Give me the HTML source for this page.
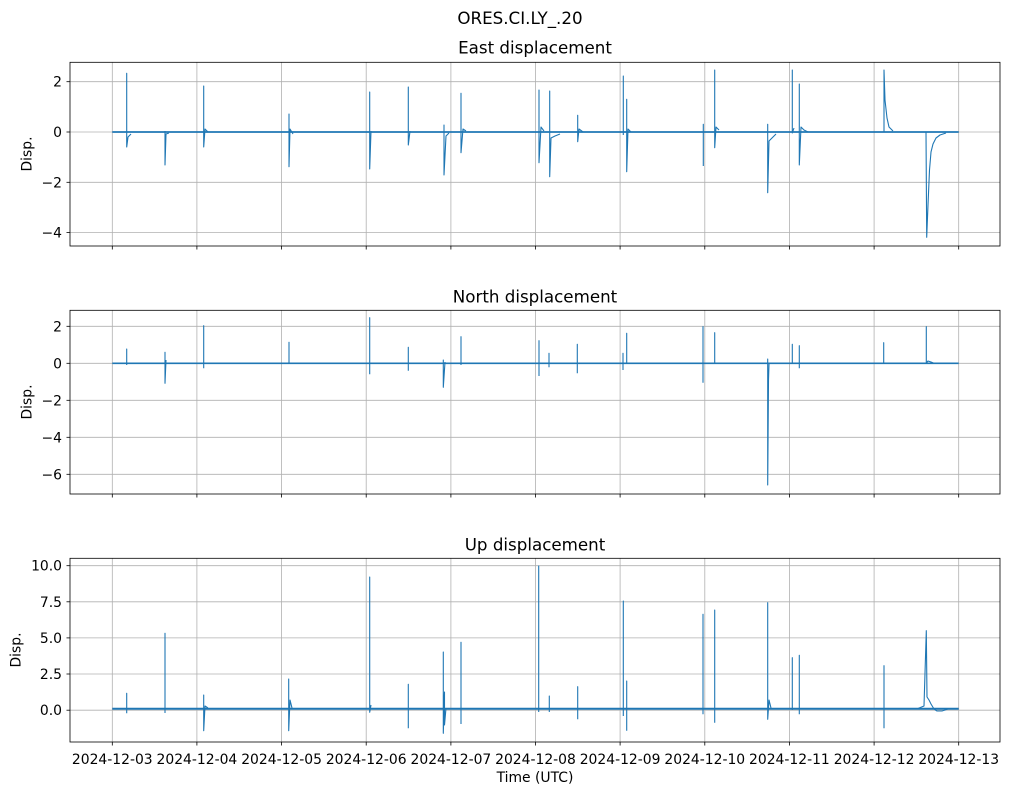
<!DOCTYPE html>
<html>
<head>
<meta charset="utf-8">
<style>
html,body{margin:0;padding:0;background:#fff;}
svg{display:block;}
text{font-family:"DejaVu Sans","Liberation Sans",sans-serif;fill:#000;}
.tk{font-size:13.9px;}
.ti{font-size:16.7px;}
.grid line{stroke:#b0b0b0;stroke-width:0.8;}
.spine{fill:none;stroke:#000;stroke-width:0.8;}
.tick line{stroke:#000;stroke-width:0.8;}
.base{fill:none;stroke:#1f77b4;stroke-width:1.7;}
.sp{fill:none;stroke:#1f77b4;stroke-width:1.1;stroke-linejoin:round;}
</style>
</head>
<body>
<svg width="1010" height="795" viewBox="0 0 1010 795" xmlns="http://www.w3.org/2000/svg">
<rect width="1010" height="795" fill="#fff"/>

<text class="ti" x="520" y="24" text-anchor="middle">ORES.CI.LY_.20</text>

<!-- ============ PANEL 1: East ============ -->
<text class="ti" x="535" y="53.5" text-anchor="middle">East displacement</text>
<g class="grid">
  <line x1="112.3" y1="62.3" x2="112.3" y2="246"/>
  <line x1="196.9" y1="62.3" x2="196.9" y2="246"/>
  <line x1="281.6" y1="62.3" x2="281.6" y2="246"/>
  <line x1="366.2" y1="62.3" x2="366.2" y2="246"/>
  <line x1="450.9" y1="62.3" x2="450.9" y2="246"/>
  <line x1="535.5" y1="62.3" x2="535.5" y2="246"/>
  <line x1="620.1" y1="62.3" x2="620.1" y2="246"/>
  <line x1="704.8" y1="62.3" x2="704.8" y2="246"/>
  <line x1="789.4" y1="62.3" x2="789.4" y2="246"/>
  <line x1="874.1" y1="62.3" x2="874.1" y2="246"/>
  <line x1="958.7" y1="62.3" x2="958.7" y2="246"/>
  <line x1="70" y1="81.7" x2="1000" y2="81.7"/>
  <line x1="70" y1="132" x2="1000" y2="132"/>
  <line x1="70" y1="182.3" x2="1000" y2="182.3"/>
  <line x1="70" y1="232.6" x2="1000" y2="232.6"/>
</g>
<path class="base" d="M112.3 132 H958.7"/>
<path class="sp" d="M126.7 132 V73.3 V147 L128 137 L131 134
M165 131 V165 L166 134 L169 133
M203.7 132 V86 V147 L205 129 L208 132
M289 132 V114 V166.7 L290 129 L293 134
M369.7 132 V92 V169 L371 131
M408.3 132 V87 V145 L410 131
M444 132 V125 V175 L446 136 L449 133
M461 132 V93.3 V152.7 L463 129 L466 131
M539 132 V90 V162.7 L541 127 L544 131
M549.7 132 V91 V176.7 L551 138 L555 136 L560 134
M577.7 132 V115.3 V141.7 L579 129 L583 132
M623.3 132 V76 V135
M626.7 132 V99.3 V171.7 L628 129 L631 132
M703.3 132 V124.3 V166
M714.7 132 V70 V147.7 L716 127 L719 130
M767.7 132 V124.3 V192.7 L769 141 L772 138 L776 134
M792.3 132 V70 V133 L794 128
M799.3 132 V84 V165 L801 127 L804 130 L808 132
M884 132 V70 L885 100 L887 118 L889 127 L893 131
M926 132 L926.7 237.3 L928 205 L929.5 170 L931 152 L933 144 L936 138 L940 135 L946 133"/>
<rect class="spine" x="70" y="62.3" width="930" height="183.7"/>
<g class="tick">
  <line x1="66.5" y1="81.7" x2="70" y2="81.7"/>
  <line x1="66.5" y1="132" x2="70" y2="132"/>
  <line x1="66.5" y1="182.3" x2="70" y2="182.3"/>
  <line x1="66.5" y1="232.6" x2="70" y2="232.6"/>
  <line x1="112.3" y1="246" x2="112.3" y2="249.5"/>
  <line x1="196.9" y1="246" x2="196.9" y2="249.5"/>
  <line x1="281.6" y1="246" x2="281.6" y2="249.5"/>
  <line x1="366.2" y1="246" x2="366.2" y2="249.5"/>
  <line x1="450.9" y1="246" x2="450.9" y2="249.5"/>
  <line x1="535.5" y1="246" x2="535.5" y2="249.5"/>
  <line x1="620.1" y1="246" x2="620.1" y2="249.5"/>
  <line x1="704.8" y1="246" x2="704.8" y2="249.5"/>
  <line x1="789.4" y1="246" x2="789.4" y2="249.5"/>
  <line x1="874.1" y1="246" x2="874.1" y2="249.5"/>
  <line x1="958.7" y1="246" x2="958.7" y2="249.5"/>
</g>
<g class="tk" text-anchor="end">
  <text x="62" y="86.7">2</text>
  <text x="62" y="137">0</text>
  <text x="62" y="187.3">−2</text>
  <text x="62" y="237.6">−4</text>
</g>
<text class="tk" x="27.5" y="154" text-anchor="middle" dominant-baseline="central" transform="rotate(-90 27.5 154)">Disp.</text>

<!-- ============ PANEL 2: North ============ -->
<text class="ti" x="535" y="302.3" text-anchor="middle">North displacement</text>
<g class="grid">
  <line x1="112.3" y1="310.3" x2="112.3" y2="494"/>
  <line x1="196.9" y1="310.3" x2="196.9" y2="494"/>
  <line x1="281.6" y1="310.3" x2="281.6" y2="494"/>
  <line x1="366.2" y1="310.3" x2="366.2" y2="494"/>
  <line x1="450.9" y1="310.3" x2="450.9" y2="494"/>
  <line x1="535.5" y1="310.3" x2="535.5" y2="494"/>
  <line x1="620.1" y1="310.3" x2="620.1" y2="494"/>
  <line x1="704.8" y1="310.3" x2="704.8" y2="494"/>
  <line x1="789.4" y1="310.3" x2="789.4" y2="494"/>
  <line x1="874.1" y1="310.3" x2="874.1" y2="494"/>
  <line x1="958.7" y1="310.3" x2="958.7" y2="494"/>
  <line x1="70" y1="326.3" x2="1000" y2="326.3"/>
  <line x1="70" y1="363.3" x2="1000" y2="363.3"/>
  <line x1="70" y1="400.3" x2="1000" y2="400.3"/>
  <line x1="70" y1="437.3" x2="1000" y2="437.3"/>
  <line x1="70" y1="474.3" x2="1000" y2="474.3"/>
</g>
<path class="base" d="M112.3 363.3 H958.7"/>
<path class="sp" d="M126.7 363.3 V349 V365
M165 363.3 V352.3 V383.3 L166 360
M203.7 363.3 V325.7 V368.3
M289 363.3 V342.3 V364
M369.7 363.3 V317.7 V374.3
M408.3 363.3 V347.3 V370.7
M443.3 363.3 V360 V387.3 L445 362
M461 363.3 V336.7 V365
M539 363.3 V340.7 V376
M549 363.3 V353.3 V367.3
M577.3 363.3 V344.3 V373.3
M623 363.3 V353.3 V370
M626.7 363.3 V333.3 V364
M703 363.3 V326.7 V382.7
M714.7 363.3 V332.7 V364
M767.7 363.3 V359 V485 L768.5 380 L769 364
M792.3 363.3 V344.3 V364
M799.3 363.3 V345.7 V368.3
M883.7 363.3 V342.7 V364
M926.3 363.3 V326.7 V363 L928 361 L931 362 L934 363.3"/>
<rect class="spine" x="70" y="310.3" width="930" height="183.7"/>
<g class="tick">
  <line x1="66.5" y1="326.3" x2="70" y2="326.3"/>
  <line x1="66.5" y1="363.3" x2="70" y2="363.3"/>
  <line x1="66.5" y1="400.3" x2="70" y2="400.3"/>
  <line x1="66.5" y1="437.3" x2="70" y2="437.3"/>
  <line x1="66.5" y1="474.3" x2="70" y2="474.3"/>
  <line x1="112.3" y1="494" x2="112.3" y2="497.5"/>
  <line x1="196.9" y1="494" x2="196.9" y2="497.5"/>
  <line x1="281.6" y1="494" x2="281.6" y2="497.5"/>
  <line x1="366.2" y1="494" x2="366.2" y2="497.5"/>
  <line x1="450.9" y1="494" x2="450.9" y2="497.5"/>
  <line x1="535.5" y1="494" x2="535.5" y2="497.5"/>
  <line x1="620.1" y1="494" x2="620.1" y2="497.5"/>
  <line x1="704.8" y1="494" x2="704.8" y2="497.5"/>
  <line x1="789.4" y1="494" x2="789.4" y2="497.5"/>
  <line x1="874.1" y1="494" x2="874.1" y2="497.5"/>
  <line x1="958.7" y1="494" x2="958.7" y2="497.5"/>
</g>
<g class="tk" text-anchor="end">
  <text x="62" y="331.3">2</text>
  <text x="62" y="368.3">0</text>
  <text x="62" y="405.3">−2</text>
  <text x="62" y="442.3">−4</text>
  <text x="62" y="479.3">−6</text>
</g>
<text class="tk" x="27.5" y="402" text-anchor="middle" dominant-baseline="central" transform="rotate(-90 27.5 402)">Disp.</text>

<!-- ============ PANEL 3: Up ============ -->
<text class="ti" x="535" y="550.3" text-anchor="middle">Up displacement</text>
<g class="grid">
  <line x1="112.3" y1="558.3" x2="112.3" y2="742"/>
  <line x1="196.9" y1="558.3" x2="196.9" y2="742"/>
  <line x1="281.6" y1="558.3" x2="281.6" y2="742"/>
  <line x1="366.2" y1="558.3" x2="366.2" y2="742"/>
  <line x1="450.9" y1="558.3" x2="450.9" y2="742"/>
  <line x1="535.5" y1="558.3" x2="535.5" y2="742"/>
  <line x1="620.1" y1="558.3" x2="620.1" y2="742"/>
  <line x1="704.8" y1="558.3" x2="704.8" y2="742"/>
  <line x1="789.4" y1="558.3" x2="789.4" y2="742"/>
  <line x1="874.1" y1="558.3" x2="874.1" y2="742"/>
  <line x1="958.7" y1="558.3" x2="958.7" y2="742"/>
  <line x1="70" y1="565.7" x2="1000" y2="565.7"/>
  <line x1="70" y1="601.8" x2="1000" y2="601.8"/>
  <line x1="70" y1="637.9" x2="1000" y2="637.9"/>
  <line x1="70" y1="674" x2="1000" y2="674"/>
  <line x1="70" y1="710.2" x2="1000" y2="710.2"/>
</g>
<path class="base" d="M112.3 708.8 H958.7" style="stroke-width:2"/>
<path class="sp" d="M126.7 709 V693.3 V713.3
M165 709 V633.3 V713
M203.7 709 V695 V730.7 L205 706 L208 708
M288.7 709 V679 V730.7 L290 700 L292 708
M369.7 709 V577 V712.3 L371 705
M408.3 709 V684.3 V728.3
M443.3 709 V652 V733.3 L444.5 692 V725 L446 708
M461 709 V642.3 V724
M538.7 709 V566 V712
M549.3 709 V696 V712
M577.7 709 V686.7 V719.3
M623.3 709 V601 V716
M626.7 709 V681 V730.7
M703 709 V614.3 V714.3
M714.7 709 V610 V722.7
M767.7 709 V602.7 V719.3 L769 700 L771 708
M792.3 709 V657.7 V710
M799.3 709 V655.3 V714.3
M884 709 V665.7 V728.3
M918 708.5 L924 706 L926.3 630.7 L927 697 L929 700 L931 704 L934 709 L937 711 L942 711 L948 709"/>
<rect class="spine" x="70" y="558.3" width="930" height="183.7"/>
<g class="tick">
  <line x1="66.5" y1="565.7" x2="70" y2="565.7"/>
  <line x1="66.5" y1="601.8" x2="70" y2="601.8"/>
  <line x1="66.5" y1="637.9" x2="70" y2="637.9"/>
  <line x1="66.5" y1="674" x2="70" y2="674"/>
  <line x1="66.5" y1="710.2" x2="70" y2="710.2"/>
  <line x1="112.3" y1="742" x2="112.3" y2="745.5"/>
  <line x1="196.9" y1="742" x2="196.9" y2="745.5"/>
  <line x1="281.6" y1="742" x2="281.6" y2="745.5"/>
  <line x1="366.2" y1="742" x2="366.2" y2="745.5"/>
  <line x1="450.9" y1="742" x2="450.9" y2="745.5"/>
  <line x1="535.5" y1="742" x2="535.5" y2="745.5"/>
  <line x1="620.1" y1="742" x2="620.1" y2="745.5"/>
  <line x1="704.8" y1="742" x2="704.8" y2="745.5"/>
  <line x1="789.4" y1="742" x2="789.4" y2="745.5"/>
  <line x1="874.1" y1="742" x2="874.1" y2="745.5"/>
  <line x1="958.7" y1="742" x2="958.7" y2="745.5"/>
</g>
<g class="tk" text-anchor="end">
  <text x="62" y="570.7">10.0</text>
  <text x="62" y="606.8">7.5</text>
  <text x="62" y="642.9">5.0</text>
  <text x="62" y="679">2.5</text>
  <text x="62" y="715.2">0.0</text>
</g>
<text class="tk" x="16.5" y="650" text-anchor="middle" dominant-baseline="central" transform="rotate(-90 16.5 650)">Disp.</text>

<g class="tk" text-anchor="middle">
  <text x="112.3" y="764">2024-12-03</text>
  <text x="196.9" y="764">2024-12-04</text>
  <text x="281.6" y="764">2024-12-05</text>
  <text x="366.2" y="764">2024-12-06</text>
  <text x="450.9" y="764">2024-12-07</text>
  <text x="535.5" y="764">2024-12-08</text>
  <text x="620.1" y="764">2024-12-09</text>
  <text x="704.8" y="764">2024-12-10</text>
  <text x="789.4" y="764">2024-12-11</text>
  <text x="874.1" y="764">2024-12-12</text>
  <text x="958.7" y="764">2024-12-13</text>
</g>
<text class="tk" x="535" y="782" text-anchor="middle">Time (UTC)</text>
</svg>
</body>
</html>
